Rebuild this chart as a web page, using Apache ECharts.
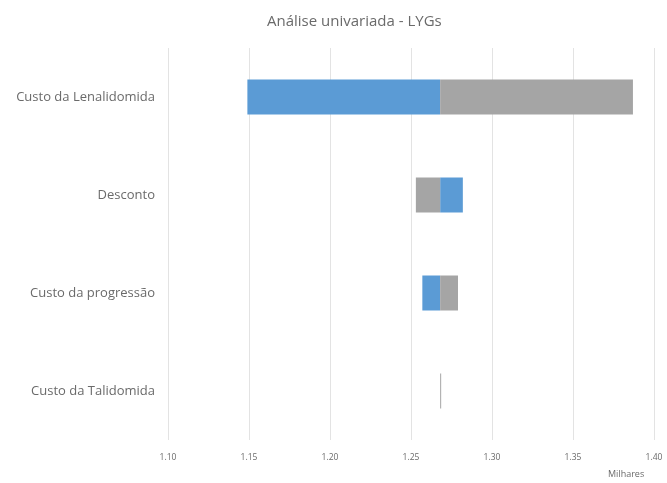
<!DOCTYPE html>
<html><head><meta charset="utf-8">
<script src="https://cdn.jsdelivr.net/npm/echarts@6/dist/echarts.min.js"></script>
<style>html,body{margin:0;padding:0;background:#fff}#c{width:667px;height:483px}</style>
</head><body><div id="c"></div>
<script>
var categories = ['Custo da Lenalidomida', 'Desconto', 'Custo da progressão', 'Custo da Talidomida'];
var baseValue = 1.268;
var blueValues = [1.149, 1.282, 1.257, 1.268];
var grayValues = [1.387, 1.253, 1.279, 1.2684];
var tickLabels = ['1.10', '1.15', '1.20', '1.25', '1.30', '1.35', '1.40'];

function lowPart(vals) { return vals.map(function (v) { return Math.min(v, baseValue); }); }
function spanPart(vals) { return vals.map(function (v) { return Math.abs(v - baseValue); }); }

var chart = echarts.init(document.getElementById('c'));
var font = 'Open Sans';
chart.setOption({
  animation: false,
  title: {
    text: 'Análise univariada - LYGs',
    left: 262, top: 9,
    textStyle: { fontFamily: font, fontSize: 15, fontWeight: 'normal', color: '#6a6a6a' }
  },
  grid: { left: 168, right: 13, top: 48, bottom: 43, containLabel: false },
  xAxis: {
    type: 'value', min: 1.10, max: 1.40, interval: 0.05,
    axisLine: { show: false }, axisTick: { show: false },
    splitLine: { show: true, lineStyle: { color: '#e3e3e3', width: 1 } },
    axisLabel: {
      margin: 13, fontFamily: font, fontSize: 8.5, color: '#6a6a6a',
      formatter: function (v) { var i = Math.round((v - 1.10) / 0.05); return tickLabels[i] || ''; }
    }
  },
  yAxis: {
    type: 'category', data: categories, inverse: true,
    axisLine: { show: false }, axisTick: { show: false },
    axisLabel: { margin: 13, fontFamily: font, fontSize: 13, color: '#6a6a6a' }
  },
  graphic: [{
    type: 'text', left: 608, top: 470,
    style: { text: 'Milhares', font: '9px "Open Sans"', fill: '#6a6a6a' }
  }],
  series: [
    { type: 'bar', stack: 'b', barWidth: 35, data: lowPart(blueValues), itemStyle: { color: 'transparent' }, silent: true },
    { type: 'bar', stack: 'b', barWidth: 35, data: spanPart(blueValues), itemStyle: { color: '#5b9bd5' } },
    { type: 'bar', stack: 'g', barWidth: 35, barGap: '-100%', data: lowPart(grayValues), itemStyle: { color: 'transparent' }, silent: true },
    { type: 'bar', stack: 'g', barWidth: 35, barGap: '-100%', data: spanPart(grayValues), itemStyle: { color: '#a5a5a5' }, barMinHeight: 1 }
  ]
});
</script></body></html>
